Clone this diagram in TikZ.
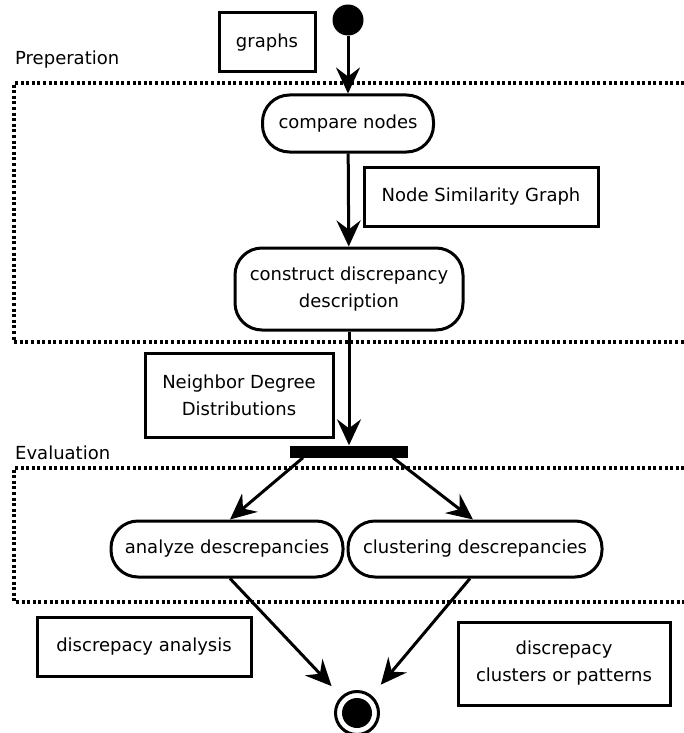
\documentclass[tikz,border=0pt]{standalone}
\usepackage{fontspec}
\setmainfont{DejaVu Sans}
\usepackage{tikz}
\usetikzlibrary{shapes.geometric, arrows.meta, calc, positioning}
\tikzstyle{activity} = [rectangle, rounded corners=27pt, line width=3pt, text centered, align=center, inner sep=0pt, draw=black, font=\fontsize{18}{27}\selectfont]
\tikzstyle{object} = [rectangle, line width=3pt, text centered, align=center, inner sep=0pt, draw=black, font=\fontsize{18}{27}\selectfont]
\tikzstyle{forkbar} = [rectangle, fill=black, inner sep=0pt, minimum width=118pt, minimum height=12pt]
\tikzstyle{initial} = [circle, fill=black, inner sep=0pt, minimum size=31pt]
\tikzstyle{label} = [anchor=base west, inner sep=0pt, font=\fontsize{18}{27}\selectfont]
\tikzstyle{partition} = [line width=3.2pt, dash pattern=on 3pt off 2.6pt]
\tikzstyle{arrow} = [line width=3pt, -{Stealth[length=26pt, width=24pt, inset=9pt]}]

\begin{document}
\begin{tikzpicture}[x=1pt, y=-1pt]
	\useasboundingbox (0,0) rectangle (683,733);
	% partitions
	\draw [partition] (690,83) -| (14,342) -- (690,342);
	\draw [partition] (690,468) -| (14,602) -- (690,602);
	\node (Preperation) [label] at (15,65) {Preperation};
	\node (Evaluation) [label] at (15,459) {Evaluation};
	% nodes
	\node (Start) [initial] at (348,20) {};
	\node (Graphs) [object, minimum width=96pt, minimum height=59pt] at (267,42.5) {graphs};
	\node (Compare) [activity, minimum width=171pt, minimum height=57pt] at (348,123.5) {compare nodes};
	\node (SimilarityGraph) [object, minimum width=234pt, minimum height=59pt] at (481,196.5) {Node Similarity Graph};
	\node (Construct) [activity, minimum width=228pt, minimum height=82pt] at (349,289) {construct discrepancy\\description};
	\node (DegreeDistributions) [object, minimum width=188pt, minimum height=84pt] at (239,395) {Neighbor Degree\\Distributions};
	\node (Fork) [forkbar] at (349,451.5) {};
	\node (Analyze) [activity, minimum width=232pt, minimum height=56pt] at (227,549) {analyze descrepancies};
	\node (Clustering) [activity, minimum width=254pt, minimum height=56pt] at (475,549) {clustering descrepancies};
	\node (Analysis) [object, minimum width=214pt, minimum height=59pt] at (144,646.5) {discrepacy analysis};
	\node (Patterns) [object, minimum width=212pt, minimum height=83pt] at (564,663.5) {discrepacy\\clusters or patterns};
	\node (Final) [circle, draw=black, line width=3pt, inner sep=0pt, minimum size=43pt] at (357,713) {};
	\fill (Final.center) circle (15pt);
	% flows
	\draw [arrow] (Start) -- (Compare);
	\draw [arrow] (Compare) -- (Construct);
	\draw [arrow] (Construct) -- (Fork);
	\draw [arrow] ([xshift=-46pt]Fork.south) -- ([xshift=3pt]Analyze.north);
	\draw [arrow] ([xshift=44pt]Fork.south) -- ([xshift=-2pt]Clustering.north);
	\draw [arrow, shorten >=14pt] ([xshift=3pt]Analyze.south) -- (Final);
	\draw [arrow, shorten >=14pt] ([xshift=-5pt]Clustering.south) -- (Final);
\end{tikzpicture}
\end{document}
